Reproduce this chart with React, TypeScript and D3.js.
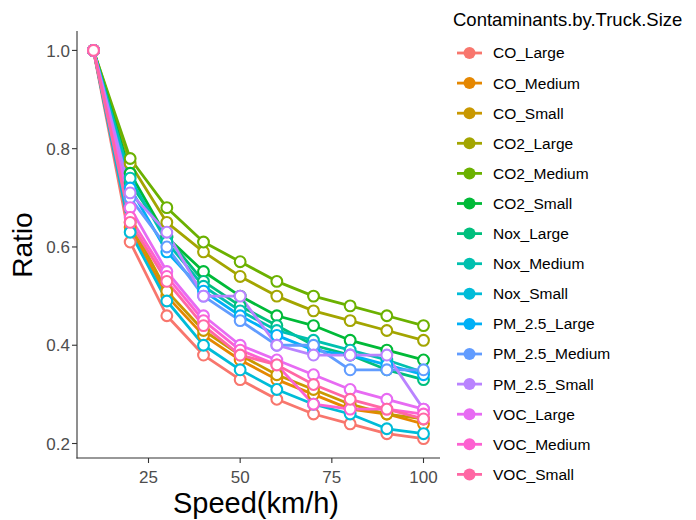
import React from "react";
import { scaleLinear, line } from "d3";

// speeds on the x axis
const speeds = [10, 20, 30, 40, 50, 60, 70, 80, 90, 100];

// ratio values, one array per series
const coLarge = [1, 0.61, 0.46, 0.38, 0.33, 0.29, 0.26, 0.24, 0.22, 0.21];
const coMedium = [1, 0.64, 0.5, 0.42, 0.37, 0.33, 0.3, 0.27, 0.26, 0.24];
const coSmall = [1, 0.65, 0.51, 0.43, 0.38, 0.34, 0.31, 0.28, 0.26, 0.25];
const co2Large = [1, 0.77, 0.65, 0.59, 0.54, 0.5, 0.47, 0.45, 0.43, 0.41];
const co2Medium = [1, 0.78, 0.68, 0.61, 0.57, 0.53, 0.5, 0.48, 0.46, 0.44];
const co2Small = [1, 0.75, 0.62, 0.55, 0.5, 0.46, 0.44, 0.41, 0.39, 0.37];
const noxLarge = [1, 0.73, 0.62, 0.53, 0.48, 0.44, 0.4, 0.38, 0.35, 0.33];
const noxMedium = [1, 0.74, 0.61, 0.52, 0.47, 0.43, 0.41, 0.39, 0.37, 0.345];
const noxSmall = [1, 0.63, 0.49, 0.4, 0.35, 0.31, 0.28, 0.26, 0.23, 0.22];
const pmLarge = [1, 0.72, 0.59, 0.51, 0.46, 0.42, 0.39, 0.38, 0.36, 0.34];
const pmMedium = [1, 0.7, 0.6, 0.5, 0.45, 0.4, 0.4, 0.35, 0.35, 0.35];
const pmSmall = [1, 0.71, 0.63, 0.5, 0.5, 0.4, 0.38, 0.38, 0.38, 0.27];
const vocLarge = [1, 0.68, 0.55, 0.46, 0.4, 0.37, 0.34, 0.31, 0.29, 0.27];
const vocMedium = [1, 0.66, 0.54, 0.45, 0.39, 0.36, 0.28, 0.27, 0.27, 0.26];
const vocSmall = [1, 0.65, 0.53, 0.44, 0.38, 0.36, 0.32, 0.29, 0.27, 0.25];

const seriesNames = [
  "CO_Large", "CO_Medium", "CO_Small",
  "CO2_Large", "CO2_Medium", "CO2_Small",
  "Nox_Large", "Nox_Medium", "Nox_Small",
  "PM_2.5_Large", "PM_2.5_Medium", "PM_2.5_Small",
  "VOC_Large", "VOC_Medium", "VOC_Small",
];
const seriesValues = [
  coLarge, coMedium, coSmall,
  co2Large, co2Medium, co2Small,
  noxLarge, noxMedium, noxSmall,
  pmLarge, pmMedium, pmSmall,
  vocLarge, vocMedium, vocSmall,
];
const colors = [
  "#F8766D", "#E58700", "#C99800", "#A3A500", "#6BB100",
  "#00BA38", "#00BF7D", "#00C0AF", "#00BCD8", "#00B0F6",
  "#619CFF", "#B983FF", "#E76BF3", "#FD61D1", "#FF67A4",
];

const xTicks = [25, 50, 75, 100];
const yTicks = [0.2, 0.4, 0.6, 0.8, 1.0];

const font = "Arial, 'Liberation Sans', sans-serif";

export default function App() {
  // panel, same expansion ggplot uses
  const x = scaleLinear().domain([5.5, 104.5]).range([77, 440]);
  const y = scaleLinear().domain([0.1705, 1.0395]).range([458, 31]);

  const path = line<number>()
    .x((d, i) => x(speeds[i]))
    .y(d => y(d));

  return (
    <svg width={696} height={520} style={{ position: "absolute", left: 0, top: 0, background: "#fff" }} fontFamily={font}>
      {/* lines first, then points, like ggplot layers */}
      <g>
        {seriesValues.map((vals, i) => (
          <path key={i} d={path(vals) || ""} fill="none" stroke={colors[i]} strokeWidth={2.8} strokeLinejoin="round" />
        ))}
      </g>
      <g>
        {seriesValues.map((vals, i) =>
          vals.map((v, j) => (
            <circle key={i + "-" + j} cx={x(speeds[j])} cy={y(v)} r={5.4} fill="#fff" stroke={colors[i]} strokeWidth={2.1} />
          ))
        )}
      </g>

      {/* axes */}
      <line x1={77} x2={77} y1={31} y2={458.5} stroke="#333" strokeWidth={1.1} />
      <line x1={76.5} x2={440} y1={458} y2={458} stroke="#333" strokeWidth={1.1} />
      {yTicks.map(t => (
        <g key={t}>
          <line x1={72} x2={77} y1={y(t)} y2={y(t)} stroke="#333" strokeWidth={1.1} />
          <text x={70} y={y(t)} dy="0.36em" textAnchor="end" fontSize={17} fill="#4D4D4D">{t.toFixed(1)}</text>
        </g>
      ))}
      {xTicks.map(t => (
        <g key={t}>
          <line x1={x(t)} x2={x(t)} y1={458} y2={463} stroke="#333" strokeWidth={1.1} />
          <text x={x(t)} y={483} textAnchor="middle" fontSize={17} fill="#4D4D4D">{t}</text>
        </g>
      ))}
      <text x={256} y={513} textAnchor="middle" fontSize={29} fill="#000">Speed(km/h)</text>
      <text transform="translate(32,245) rotate(-90)" textAnchor="middle" fontSize={28} fill="#000">Ratio</text>

      {/* legend */}
      <text x={453} y={26} fontSize={18.5} fill="#000">Contaminants.by.Truck.Size</text>
      {seriesNames.map((name, i) => {
        const cy = 53 + i * 30.1;
        return (
          <g key={name}>
            <line x1={457} x2={482} y1={cy} y2={cy} stroke={colors[i]} strokeWidth={2.8} />
            <circle cx={469.5} cy={cy} r={6} fill={colors[i]} />
            <text x={493} y={cy} dy="0.35em" fontSize={15.5} fill="#000">{name}</text>
          </g>
        );
      })}
    </svg>
  );
}
